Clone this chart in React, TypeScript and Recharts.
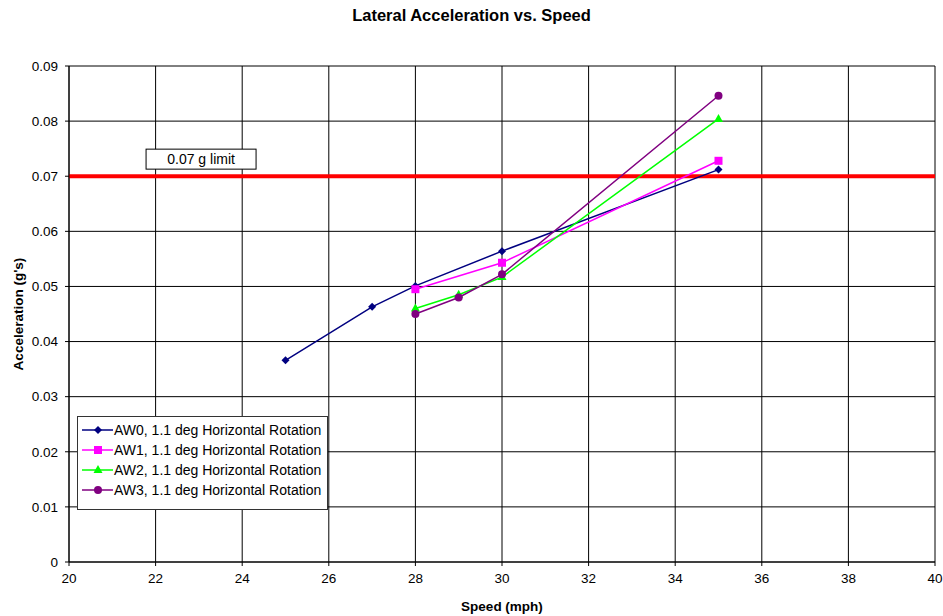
import React from 'react';
import { LineChart, Line, XAxis, YAxis, CartesianGrid, ReferenceLine, ReferenceDot } from 'recharts';

const speedsAW0 = [25, 27, 28, 30, 35];
const accelAW0 = [0.0366, 0.0463, 0.0501, 0.0564, 0.0712];
const speedsAW1 = [28, 30, 35];
const accelAW1 = [0.0495, 0.0543, 0.0728];
const speedsAW2 = [28, 29, 30, 35];
const accelAW2 = [0.046, 0.0485, 0.0517, 0.0804];
const speedsAW3 = [28, 29, 30, 35];
const accelAW3 = [0.045, 0.048, 0.0522, 0.0846];

const xTicks = [20, 22, 24, 26, 28, 30, 32, 34, 36, 38, 40];
const yTicks = [0, 0.01, 0.02, 0.03, 0.04, 0.05, 0.06, 0.07, 0.08, 0.09];
const limitValue = 0.07;
const limitLabel = '0.07 g limit';
const limitLabelAt = { speed: 23.05, acc: 0.0731 };

const toRows = (speeds: number[], acc: number[]) => speeds.map((s, i) => ({ speed: s, acc: acc[i] }));

type Marker = 'diamond' | 'square' | 'triangle' | 'circle';

const series = [
  { name: 'AW0, 1.1 deg Horizontal Rotation', color: '#000080', marker: 'diamond' as Marker, data: toRows(speedsAW0, accelAW0) },
  { name: 'AW1, 1.1 deg Horizontal Rotation', color: '#ff00ff', marker: 'square' as Marker, data: toRows(speedsAW1, accelAW1) },
  { name: 'AW2, 1.1 deg Horizontal Rotation', color: '#00ff00', marker: 'triangle' as Marker, data: toRows(speedsAW2, accelAW2) },
  { name: 'AW3, 1.1 deg Horizontal Rotation', color: '#800080', marker: 'circle' as Marker, data: toRows(speedsAW3, accelAW3) },
];

const FONT = '"Liberation Sans", Arial, sans-serif';

const drawMarker = (marker: Marker, cx: number, cy: number, color: string, key?: string) => {
  if (marker === 'diamond') {
    return <path key={key} d={`M${cx},${cy - 4}L${cx + 4},${cy}L${cx},${cy + 4}L${cx - 4},${cy}Z`} fill={color} />;
  }
  if (marker === 'square') {
    return <rect key={key} x={cx - 4} y={cy - 4} width={8} height={8} fill={color} />;
  }
  if (marker === 'triangle') {
    return <path key={key} d={`M${cx},${cy - 5}L${cx + 4.5},${cy + 3}L${cx - 4.5},${cy + 3}Z`} fill={color} />;
  }
  return <circle key={key} cx={cx} cy={cy} r={4} fill={color} />;
};

const LimitBox = (props: any) => {
  const { cx, cy } = props;
  return (
    <g>
      <rect x={cx - 55} y={cy - 10} width={110} height={20} fill="#fff" stroke="#000" strokeWidth={1} />
      <text x={cx} y={cy + 5} textAnchor="middle" fontSize={14} fontFamily={FONT} fill="#000">{limitLabel}</text>
    </g>
  );
};

const App: React.FC = () => {
  return (
    <div style={{ position: 'absolute', left: 0, top: 0, width: 943, height: 616, background: '#fff', fontFamily: FONT }}>
      <div style={{ position: 'absolute', left: 0, width: 943, top: 6, textAlign: 'center', fontSize: 16.5, fontWeight: 'bold', lineHeight: '19px' }}>
        Lateral Acceleration vs. Speed
      </div>
      <LineChart width={943} height={616} margin={{ top: 66, right: 8, bottom: 24, left: 19 }}>
        <CartesianGrid stroke="#000" strokeWidth={1} horizontal vertical />
        <XAxis
          type="number"
          dataKey="speed"
          domain={[20, 40]}
          ticks={xTicks}
          allowDuplicatedCategory={false}
          height={30}
          stroke="#000"
          tickSize={4}
          tickMargin={7}
          tick={{ fill: '#000', fontSize: 13.5, fontFamily: FONT }}
          label={{ value: 'Speed (mph)', position: 'insideBottom', offset: -19, fontSize: 13.5, fontWeight: 'bold', fill: '#000', fontFamily: FONT }}
        />
        <YAxis
          type="number"
          domain={[0, 0.09]}
          ticks={yTicks}
          width={50}
          stroke="#000"
          tickSize={4}
          tickMargin={7}
          tickFormatter={(v: number) => (v === 0 ? '0' : v.toFixed(2))}
          tick={{ fill: '#000', fontSize: 13.5, fontFamily: FONT }}
          label={{ value: "Acceleration (g's)", angle: -90, position: 'insideLeft', offset: -1, style: { textAnchor: 'middle' }, fontSize: 13.5, fontWeight: 'bold', fill: '#000', fontFamily: FONT }}
        />
        <ReferenceLine y={limitValue} stroke="#ff0000" strokeWidth={4} />
        {series.map(s => (
          <Line
            key={s.name}
            data={s.data}
            dataKey="acc"
            type="linear"
            stroke={s.color}
            strokeWidth={1.5}
            isAnimationActive={false}
            dot={(p: any) => drawMarker(s.marker, p.cx, p.cy, s.color, `${s.name}-${p.index}`)}
            activeDot={false}
          />
        ))}
        <ReferenceDot x={limitLabelAt.speed} y={limitLabelAt.acc} shape={LimitBox} />
      </LineChart>
      <div style={{ position: 'absolute', left: 77, top: 416, width: 251, height: 94, boxSizing: 'border-box', border: '1px solid #333', background: '#fff', padding: '3px 0', fontSize: 14 }}>
        {series.map(s => (
          <div key={s.name} style={{ display: 'flex', alignItems: 'center', height: 20 }}>
            <svg width={32} height={12} style={{ marginLeft: 3, flexShrink: 0 }}>
              <line x1={1} y1={6} x2={32} y2={6} stroke={s.color} strokeWidth={1.5} />
              {drawMarker(s.marker, 17, 6, s.color)}
            </svg>
            <span style={{ marginLeft: 1, whiteSpace: 'nowrap' }}>{s.name}</span>
          </div>
        ))}
      </div>
    </div>
  );
};

export default App;
